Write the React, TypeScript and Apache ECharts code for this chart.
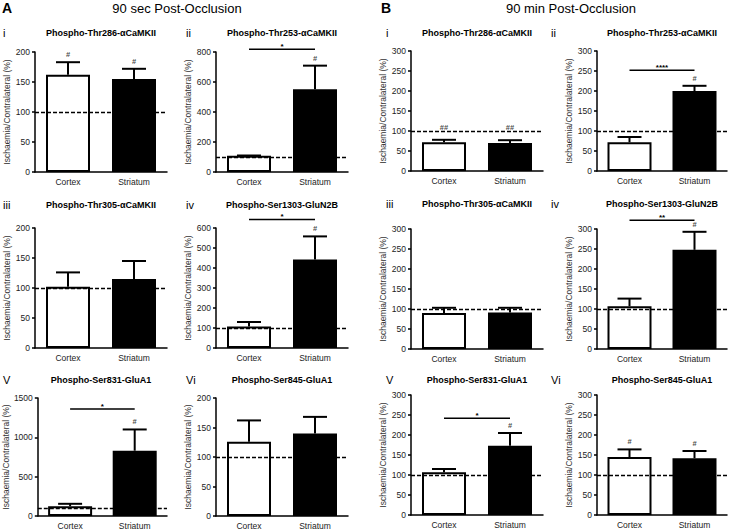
import React, { useEffect, useRef } from "react";
import * as echarts from "echarts";

// ---------- data ----------
const categories = ["Cortex", "Striatum"];
const sectionLetters = ["A", "B"];
const sectionTitles = ["90 sec Post-Occlusion", "90 min Post-Occlusion"];
const panelNumerals = ["i", "ii", "iii", "iv", "V", "Vi", "i", "ii", "iii", "iv", "V", "Vi"];
const panelTitles = [
  "Phospho-Thr286-αCaMKII",
  "Phospho-Thr253-αCaMKII",
  "Phospho-Thr305-αCaMKII",
  "Phospho-Ser1303-GluN2B",
  "Phospho-Ser831-GluA1",
  "Phospho-Ser845-GluA1",
  "Phospho-Thr286-αCaMKII",
  "Phospho-Thr253-αCaMKII",
  "Phospho-Thr305-αCaMKII",
  "Phospho-Ser1303-GluN2B",
  "Phospho-Ser831-GluA1",
  "Phospho-Ser845-GluA1",
];
const cortexMean = [162, 108, 102, 108, 125, 126, 72, 72, 90, 107, 107, 145];
const cortexErrTop = [183, 110, 126, 130, 155, 162, 78, 85, 103, 126, 115, 164];
const striatumMean = [155, 551, 115, 443, 830, 140, 70, 200, 91, 248, 173, 142];
const striatumErrTop = [172, 709, 145, 558, 1100, 168, 77, 213, 103, 293, 205, 160];
const cortexHash = ["#", "", "", "", "", "", "##", "", "", "", "", "#"];
const striatumHash = ["#", "#", "", "#", "#", "", "##", "#", "", "#", "#", "#"];
const yMax = [200, 800, 200, 600, 1500, 200, 300, 300, 300, 300, 300, 300];
const yInterval = [50, 200, 50, 100, 500, 50, 50, 50, 50, 50, 50, 50];
const sigValue = [null, 818, null, 643, 1360, null, null, 252, null, 322, 242, null];
const sigLabel = ["", "*", "", "*", "*", "", "", "****", "", "**", "*", ""];
const referenceLevel = 100;
const yAxisName = "Ischaemia/Contralateral (%)";

// ---------- layout ----------
const FONT = "Liberation Sans, Arial, Helvetica, sans-serif";
const colLeft = [35, 216, 411, 597];
const colWidth = [132, 132, 132, 130];
const rowTop = [
  [52, 228, 398],
  [51, 229, 395],
];
const gridHeight = 120;
const titleY = [
  [33, 205, 380],
  [33, 204, 380],
];
const numeralX = [3, 186, 386, 551];
const nameGaps = [14, 17, 21, 23];
const hashGaps = [3, 3, 3, 3, 3, 3, 8, 3, 3, 3, 3, 3];

function buildOption() {
  const grid: any[] = [];
  const xAxis: any[] = [];
  const yAxis: any[] = [];
  const series: any[] = [];
  const graphic: any[] = [];

  for (let s = 0; s < 2; s++) {
    graphic.push({
      type: "text",
      x: s === 0 ? 2 : 381,
      y: 8,
      style: { text: sectionLetters[s], font: `bold 14px ${FONT}`, fill: "#000", verticalAlign: "middle" },
    });
    graphic.push({
      type: "text",
      x: s === 0 ? 177 : 571,
      y: 8,
      style: { text: sectionTitles[s], font: `13px ${FONT}`, fill: "#000", align: "center", verticalAlign: "middle" },
    });
  }

  for (let p = 0; p < 12; p++) {
    const s = p < 6 ? 0 : 1;
    const r = Math.floor((p % 6) / 2);
    const c = p % 2;
    const col = s * 2 + c;
    const left = colLeft[col];
    const width = colWidth[col];
    const top = rowTop[s][r];

    grid.push({ left, top, width, height: gridHeight });
    xAxis.push({
      type: "category",
      gridIndex: p,
      data: categories,
      axisLine: { lineStyle: { color: "#000", width: 1.5 } },
      axisTick: { alignWithLabel: true, length: 3, lineStyle: { color: "#000", width: 1.5 } },
      axisLabel: { fontSize: 8.5, fontFamily: FONT, color: "#222", margin: 5 },
    });
    yAxis.push({
      type: "value",
      gridIndex: p,
      min: 0,
      max: yMax[p],
      interval: yInterval[p],
      splitLine: { show: false },
      axisLine: { show: true, lineStyle: { color: "#000", width: 1.5 } },
      axisTick: { show: true, length: 3, lineStyle: { color: "#000", width: 1.5 } },
      axisLabel: {
        fontSize: 8.5,
        fontFamily: FONT,
        color: "#222",
        margin: 5,
        formatter: (v: number) => String(v),
      },
      name: yAxisName,
      nameLocation: "middle",
      nameGap: nameGaps[col],
      nameTextStyle: { fontSize: 8.5, fontFamily: FONT, color: "#333" },
    });

    series.push({
      type: "bar",
      xAxisIndex: p,
      yAxisIndex: p,
      barWidth: 44,
      data: [
        { value: cortexMean[p], itemStyle: { color: "#fff", borderColor: "#000", borderWidth: 2 } },
        { value: striatumMean[p], itemStyle: { color: "#000", borderColor: "#000", borderWidth: 2 } },
      ],
      markLine: {
        silent: true,
        symbol: ["none", "none"],
        label: { show: false },
        lineStyle: { color: "#000", type: [4, 2], width: 1.3 },
        data: [{ yAxis: referenceLevel }],
      },
      z: 2,
    });

    series.push({
      type: "custom",
      xAxisIndex: p,
      yAxisIndex: p,
      z: 5,
      itemStyle: { color: "#000" },
      data: [
        [0, cortexMean[p], cortexErrTop[p]],
        [1, striatumMean[p], striatumErrTop[p]],
      ],
      renderItem: (params: any, api: any) => {
        const idx = api.value(0);
        const p0 = api.coord([idx, api.value(1)]);
        const p1 = api.coord([idx, api.value(2)]);
        return {
          type: "group",
          children: [
            { type: "line", shape: { x1: p0[0], y1: p0[1], x2: p1[0], y2: p1[1] }, style: { stroke: "#000", lineWidth: 2 } },
            { type: "line", shape: { x1: p1[0] - 12, y1: p1[1], x2: p1[0] + 12, y2: p1[1] }, style: { stroke: "#000", lineWidth: 2 } },
          ],
        };
      },
    });

    const hashData: any[] = [];
    if (cortexHash[p]) hashData.push({ value: [0, cortexErrTop[p]], label: { formatter: cortexHash[p] } });
    if (striatumHash[p]) hashData.push({ value: [1, striatumErrTop[p]], label: { formatter: striatumHash[p] } });
    if (hashData.length) {
      series.push({
        type: "scatter",
        xAxisIndex: p,
        yAxisIndex: p,
        symbolSize: 1,
        itemStyle: { color: "rgba(0,0,0,0)" },
        silent: true,
        z: 6,
        label: {
          show: true,
          position: "top",
          distance: hashGaps[p],
          color: "#111",
          fontSize: 7.5,
          fontWeight: "bold",
          fontFamily: FONT,
        },
        data: hashData,
      });
    }

    if (sigValue[p] !== null) {
      const label = sigLabel[p];
      series.push({
        type: "custom",
        xAxisIndex: p,
        yAxisIndex: p,
        z: 5,
        itemStyle: { color: "#000" },
        data: [[0, sigValue[p]]],
        renderItem: (params: any, api: any) => {
          const v = api.value(1);
          const a = api.coord([0, v]);
          const b = api.coord([1, v]);
          return {
            type: "group",
            children: [
              { type: "line", shape: { x1: a[0], y1: a[1], x2: b[0], y2: b[1] }, style: { stroke: "#000", lineWidth: 1.5 } },
              {
                type: "text",
                x: (a[0] + b[0]) / 2,
                y: a[1] - 3,
                style: { text: label, font: `bold 8px ${FONT}`, fill: "#000", align: "center", verticalAlign: "middle" },
              },
            ],
          };
        },
      });
    }

    graphic.push({
      type: "text",
      x: numeralX[col],
      y: titleY[s][r],
      style: { text: panelNumerals[p], font: `11px ${FONT}`, fill: "#000", verticalAlign: "middle" },
    });
    graphic.push({
      type: "text",
      x: left + width / 2,
      y: titleY[s][r],
      style: { text: panelTitles[p], font: `bold 9px ${FONT}`, fill: "#000", align: "center", verticalAlign: "middle" },
    });
  }

  return {
    animation: false,
    backgroundColor: "#fff",
    grid,
    xAxis,
    yAxis,
    series,
    graphic,
  };
}

export default function App() {
  const ref = useRef<HTMLDivElement>(null);
  useEffect(() => {
    if (!ref.current) return;
    const chart = echarts.init(ref.current, null, { renderer: "svg" });
    chart.setOption(buildOption() as any);
    return () => chart.dispose();
  }, []);
  return (
    <div
      ref={ref}
      style={{ position: "fixed", left: 0, top: 0, width: 729, height: 530, background: "#fff" }}
    />
  );
}
